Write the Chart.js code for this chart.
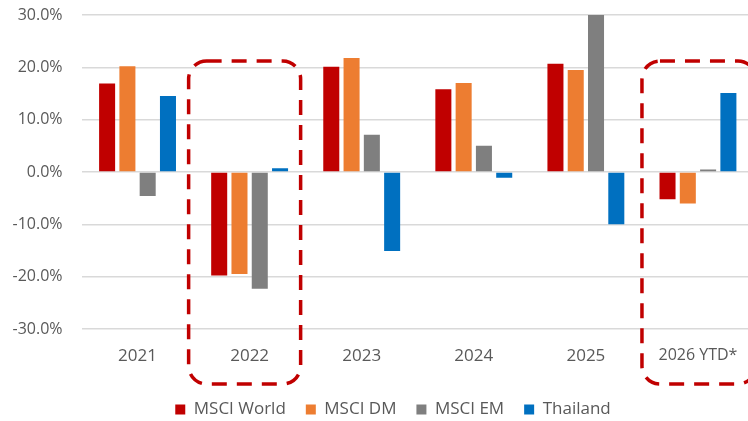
<!DOCTYPE html>
<html>
<head>
<meta charset="utf-8">
<script src="https://cdn.jsdelivr.net/npm/chart.js@4.4.1/dist/chart.umd.min.js"></script>
<style>
html,body{margin:0;padding:0;overflow:hidden;background:#fff;width:748px;height:421px;}
#wrap{width:754px;height:421px;position:relative;}
</style>
</head>
<body>
<div id="wrap"><canvas id="c" width="754" height="421"></canvas></div>
<script>
const categories = ['2021', '2022', '2023', '2024', '2025', '2026 YTD*'];
const seriesNames = ['MSCI World', 'MSCI DM', 'MSCI EM', 'Thailand'];
const msciWorld = [16.9, -19.8, 20.1, 15.8, 20.7, -5.2];
const msciDM = [20.2, -19.5, 21.8, 17.0, 19.5, -6.0];
const msciEM = [-4.6, -22.3, 7.1, 5.0, 30.5, 0.5];
const thailand = [14.5, 0.7, -15.1, -1.1, -10.0, 15.1];
const yTicks = [-30, -20, -10, 0, 10, 20, 30];
const highlighted = [1, 5];

const colors = ['#C00000', '#ED7D31', '#7F7F7F', '#0070C0'];
const FONT = 'Open Sans';
const TEXT = '#595959';

const boxPlugin = {
  id: 'dashBoxes',
  afterLayout(chart) {
    if (chart.legend) { chart.legend.left += 32; }
  },
  afterDraw(chart) {
    const x = chart.scales.x;
    const ctx = chart.ctx;
    const offs = [[-61, 51], [-56, 58]];
    ctx.save();
    ctx.strokeStyle = '#C00000';
    ctx.lineWidth = 3.5;
    ctx.setLineDash([15, 10]);
    highlighted.forEach((idx, k) => {
      const c = x.getPixelForValue(idx);
      const l = c + offs[k][0], r = c + offs[k][1];
      const t = 61, b = 384;
      ctx.beginPath();
      ctx.roundRect(l, t, r - l, b - t, 18);
      ctx.stroke();
    });
    ctx.restore();
  }
};

new Chart(document.getElementById('c'), {
  type: 'bar',
  data: {
    labels: categories,
    datasets: [msciWorld, msciDM, msciEM, thailand].map((d, i) => ({
      label: seriesNames[i],
      data: d,
      backgroundColor: colors[i],
      borderWidth: 0,
      categoryPercentage: 0.724,
      barPercentage: 0.79
    }))
  },
  options: {
    responsive: false,
    animation: false,
    layout: { padding: { left: 0, right: 0, top: 15, bottom: -7 } },
    plugins: {
      tooltip: { enabled: false },
      legend: {
        position: 'bottom',
        labels: {
          boxWidth: 10, boxHeight: 10, padding: 20,
          color: TEXT, font: { family: FONT, size: 17 }
        }
      }
    },
    scales: {
      x: {
        grid: { display: false, drawTicks: false },
        border: { display: false },
        ticks: {
          color: TEXT, padding: 17,
          font: (ctx) => ({ family: FONT, size: ctx.index === 5 ? 16 : 17 })
        },
        afterFit(s) { s.height = 52; s.paddingLeft = 0; s.paddingRight = 0; }
      },
      y: {
        min: -30, max: 30,
        afterBuildTicks(s) { s.ticks = yTicks.map(v => ({ value: v })); },
        grid: { color: '#D9D9D9', lineWidth: 1.5, drawTicks: false },
        border: { display: false },
        ticks: {
          color: TEXT, padding: 19,
          font: { family: FONT, size: 16 },
          callback: (v) => Number(v).toFixed(1) + '%'
        },
        afterFit(s) { s.width = 81.5; s.paddingTop = 0; s.paddingBottom = 0; }
      }
    }
  },
  plugins: [boxPlugin]
});
</script>
</body>
</html>
